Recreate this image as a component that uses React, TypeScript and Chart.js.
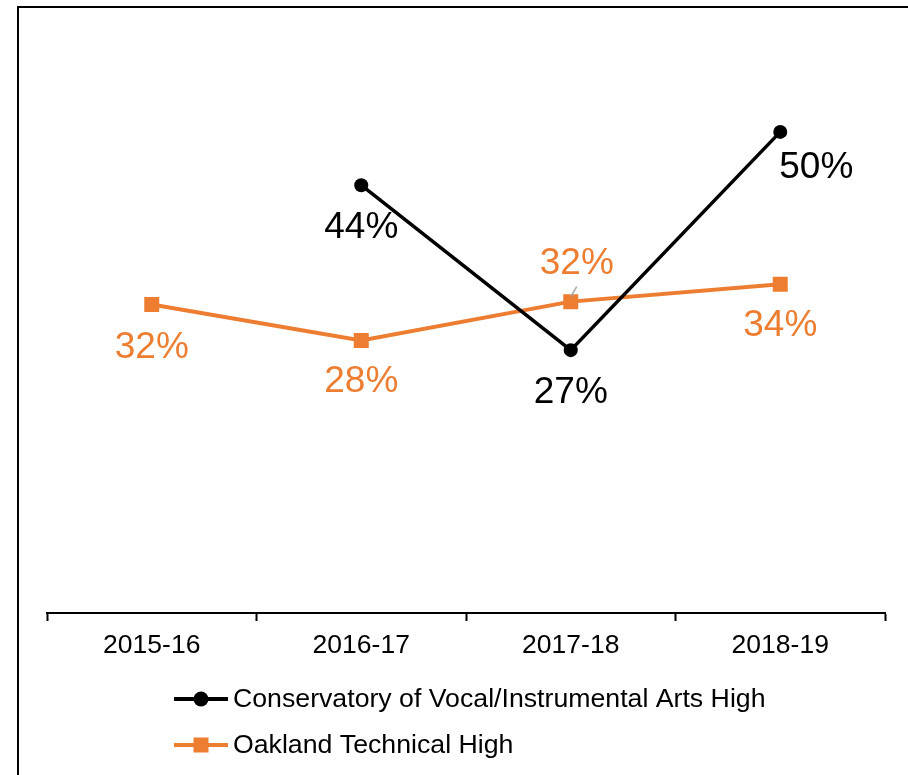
import React, { useEffect, useRef } from "react";
import { Chart, registerables } from "chart.js";

Chart.register(...registerables);

const categories = ["2015-16", "2016-17", "2017-18", "2018-19"];
const seriesNames = ["Conservatory of Vocal/Instrumental Arts High", "Oakland Technical High"];
const conservatoryValues = [null, 44.1, 27.1, 49.6];
const oaklandValues = [31.8, 28.1, 32.1, 33.9];

// label placement relative to each point (dx, dy)
const conservatoryLabelOffsets = [[0, 0], [0, 42], [0, 42], [36, 35]];
const oaklandLabelOffsets = [[0, 42], [0, 40], [6, -39], [0, 41]];

const BLACK = "#000000";
const ORANGE = "#ED7D31";
const FONT = "Arial, 'Liberation Sans', sans-serif";

const W = 908;
const H = 775;

export default function App() {
  const ref = useRef<HTMLCanvasElement | null>(null);

  useEffect(() => {
    if (!ref.current) return;

    const framePlugin = {
      id: "frame",
      beforeDraw(chart: any) {
        const ctx = chart.ctx;
        ctx.save();
        ctx.fillStyle = "#ffffff";
        ctx.fillRect(0, 0, chart.width, chart.height);
        ctx.strokeStyle = "#000000";
        ctx.lineWidth = 2;
        ctx.beginPath();
        ctx.moveTo(18, H);
        ctx.lineTo(18, 7);
        ctx.lineTo(W, 7);
        ctx.stroke();
        ctx.restore();
      },
    };

    const labelPlugin = {
      id: "valueLabels",
      afterDatasetsDraw(chart: any) {
        const ctx = chart.ctx;
        const offsets = [conservatoryLabelOffsets, oaklandLabelOffsets];
        ctx.save();
        ctx.font = `37px ${FONT}`;
        ctx.textAlign = "center";
        ctx.textBaseline = "middle";
        chart.data.datasets.forEach((ds: any, di: number) => {
          const meta = chart.getDatasetMeta(di);
          meta.data.forEach((pt: any, i: number) => {
            const v = ds.data[i];
            if (v === null || v === undefined) return;
            const [dx, dy] = offsets[di][i];
            if (dy < 0) {
              ctx.strokeStyle = "#A6A6A6";
              ctx.lineWidth = 1.5;
              ctx.beginPath();
              ctx.moveTo(pt.x, pt.y - 5);
              ctx.lineTo(pt.x + 6, pt.y - 15);
              ctx.stroke();
            }
            ctx.fillStyle = ds.borderColor;
            ctx.fillText(Math.round(v) + "%", pt.x + dx, pt.y + dy + 1);
          });
        });
        ctx.restore();
      },
    };

    const legendPlugin = {
      id: "customLegend",
      afterDraw(chart: any) {
        const ctx = chart.ctx;
        const rows = [699, 745];
        ctx.save();
        chart.data.datasets.forEach((ds: any, di: number) => {
          const y = rows[di];
          ctx.strokeStyle = ds.borderColor;
          ctx.lineWidth = 4;
          ctx.beginPath();
          ctx.moveTo(174, y);
          ctx.lineTo(228, y);
          ctx.stroke();
          ctx.fillStyle = ds.borderColor;
          if (ds.pointStyle === "circle") {
            ctx.beginPath();
            ctx.arc(201, y, 7.5, 0, Math.PI * 2);
            ctx.fill();
          } else {
            ctx.fillRect(201 - 7.5, y - 7.5, 15, 15);
          }
          ctx.fillStyle = "#000000";
          ctx.font = `26.7px ${FONT}`;
          ctx.textAlign = "left";
          ctx.textBaseline = "middle";
          ctx.fillText(ds.label, 233, y + 1);
        });
        ctx.restore();
      },
    };

    const chart = new Chart(ref.current, {
      type: "line",
      data: {
        labels: categories,
        datasets: [
          {
            label: seriesNames[0],
            data: conservatoryValues,
            borderColor: BLACK,
            backgroundColor: BLACK,
            borderWidth: 3.5,
            pointStyle: "circle",
            pointRadius: 7,
            pointBorderWidth: 0,
            pointBackgroundColor: BLACK,
            tension: 0,
            spanGaps: false,
          },
          {
            label: seriesNames[1],
            data: oaklandValues,
            borderColor: ORANGE,
            backgroundColor: ORANGE,
            borderWidth: 4,
            pointStyle: "rect",
            pointRadius: 10.6,
            pointBorderWidth: 0,
            pointBackgroundColor: ORANGE,
            tension: 0,
          },
        ],
      },
      options: {
        responsive: false,
        animation: false,
        devicePixelRatio: 1,
        layout: { padding: { left: 47, right: 23, top: 31, bottom: 0 } },
        plugins: {
          legend: { display: false },
          tooltip: { enabled: false },
        },
        scales: {
          x: {
            type: "category",
            offset: true,
            grid: {
              offset: true,
              drawOnChartArea: false,
              drawTicks: true,
              tickLength: 8,
              tickColor: BLACK,
              tickWidth: 2,
            },
            border: { display: true, color: BLACK, width: 2 },
            ticks: {
              color: BLACK,
              font: { family: FONT, size: 26.5 },
              padding: 9,
              maxRotation: 0,
              autoSkip: false,
            },
            afterFit(scale: any) {
              scale.height = H - 613;
            },
          },
          y: {
            display: false,
            min: 0,
            max: 60,
          },
        },
      },
      plugins: [framePlugin, labelPlugin, legendPlugin],
    });

    return () => chart.destroy();
  }, []);

  return (
    <div style={{ position: "absolute", left: 0, top: 0, width: W, height: H, background: "#fff" }}>
      <canvas ref={ref} width={W} height={H} style={{ display: "block" }} />
    </div>
  );
}
